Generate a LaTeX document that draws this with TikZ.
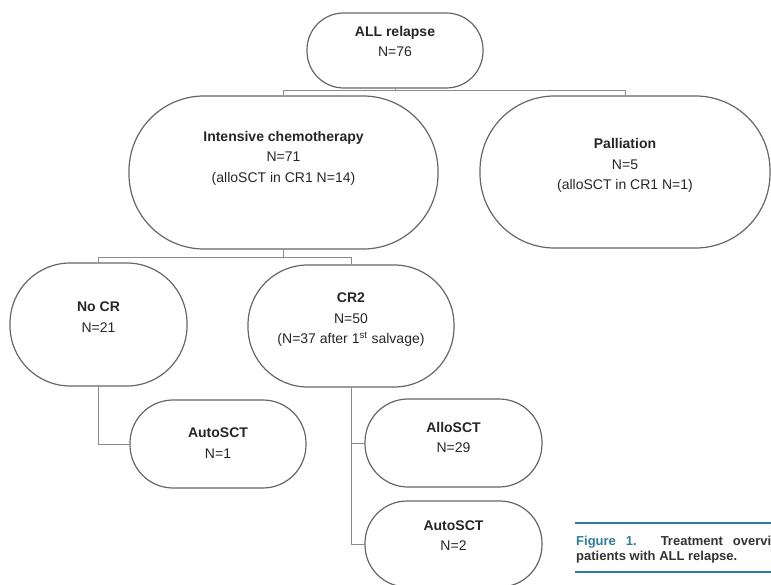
\documentclass[tikz,border=0pt]{standalone}
\usepackage{fontspec}
\setmainfont{Liberation Sans}
\usepackage{tikz}
\usetikzlibrary{calc}
\definecolor{boxgray}{HTML}{666666}
\definecolor{linegray}{HTML}{8A8A8A}
\definecolor{capblue}{HTML}{2B7C9E}
\definecolor{captext}{HTML}{333333}

\begin{document}
\begin{tikzpicture}[x=1pt, y=-1pt,
		stadium/.style 2 args={draw=boxgray, line width=1.2pt, minimum width=#1, minimum height=#2, rounded corners=0.49*#2, inner sep=0pt},
		boxtext/.style={align=center, inner sep=0pt, font=\fontsize{14}{20.5}\selectfont, text=black!85},
		conn/.style={draw=linegray, line width=0.9pt},
		capline/.style={draw=capblue, line width=1.8pt},
		captxt/.style={anchor=base west, inner sep=0pt, font=\fontsize{13}{15}\selectfont\bfseries, text=captext}]
		%%%%% START %%%%%
		
		\useasboundingbox (0, 0) rectangle (771, 585);
		
		\node[stadium={176}{75}] (all) at (395, 50.5) {};
		\node[boxtext] (all-t) at (395, 41.5) {\textbf{ALL relapse}\\N=76};
		
		\node[stadium={309}{153}] (ic) at (283.5, 172.5) {};
		\node[boxtext] (ic-t) at (283.5, 158) {\textbf{Intensive chemotherapy}\\N=71\\(alloSCT in CR1 N=14)};
		
		\node[stadium={290}{152}] (pal) at (625, 172) {};
		\node[boxtext] (pal-t) at (625, 165.5) {\textbf{Palliation}\\N=5\\(alloSCT in CR1 N=1)};
		
		\node[stadium={177}{123}] (nocr) at (98.5, 324.5) {};
		\node[boxtext] (nocr-t) at (98.5, 317) {\textbf{No CR}\\N=21};
		
		\node[stadium={206}{122}] (cr2) at (351, 326) {};
		\node[boxtext] (cr2-t) at (351, 320) {\textbf{CR2}\\N=50\\(N=37 after 1\textsuperscript{st} salvage)};
		
		\node[stadium={176}{88}] (auto1) at (218, 444) {};
		\node[boxtext] (auto1-t) at (218, 443) {\textbf{AutoSCT}\\N=1};
		
		\node[stadium={177}{88}] (allo) at (453.5, 443) {};
		\node[boxtext] (allo-t) at (453.5, 437.5) {\textbf{AlloSCT}\\N=29};
		
		\node[stadium={177}{86}] (auto2) at (453.5, 544) {};
		\node[boxtext] (auto2-t) at (453.5, 535.5) {\textbf{AutoSCT}\\N=2};
		
		% tree lines
		\draw[conn] (all.south) -- ++(0, 2) coordinate (j1);
		\draw[conn] (ic.north) |- (j1) -| (pal.north);
		\draw[conn] (ic.south) -- ++(0, 8) coordinate (j2);
		\draw[conn] (nocr.north) |- (j2) -| (cr2.north);
		\draw[conn] (nocr.south) |- (auto1.west);
		\draw[conn] (cr2.south) |- (allo.west);
		\draw[conn] (cr2.south) |- (auto2.west);
		
		% caption
		\draw[capline] (575, 523) -- (771, 523);
		\draw[capline] (575, 572) -- (771, 572);
		\node[captxt] (cap1) at (576, 545) {\makebox[195pt][s]{\textcolor{capblue}{Figure 1.} Treatment overvi}};
		\node[captxt] (cap2) at (576, 560) {patients with ALL relapse.};
		
		%%%%% END %%%%%
\end{tikzpicture}
\end{document}
